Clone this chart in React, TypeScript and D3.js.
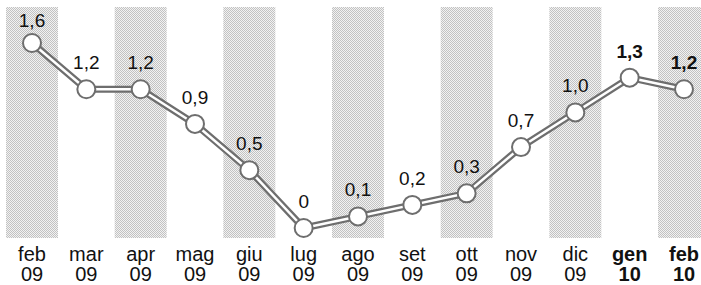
import React, { useEffect, useRef } from 'react';
import * as d3 from 'd3';

// dati: variazione mensile
const months = ['feb', 'mar', 'apr', 'mag', 'giu', 'lug', 'ago', 'set', 'ott', 'nov', 'dic', 'gen', 'feb'];
const years = ['09', '09', '09', '09', '09', '09', '09', '09', '09', '09', '09', '10', '10'];
const values = [1.6, 1.2, 1.2, 0.9, 0.5, 0, 0.1, 0.2, 0.3, 0.7, 1.0, 1.3, 1.2];
const valueLabels = ['1,6', '1,2', '1,2', '0,9', '0,5', '0', '0,1', '0,2', '0,3', '0,7', '1,0', '1,3', '1,2'];
const boldFrom = 11;

const App = () => {
  const svgRef = useRef<SVGSVGElement>(null);

  useEffect(() => {
    const width = 701;
    const height = 285;
    const svg = d3.select(svgRef.current);
    svg.selectAll('*').remove();
    svg.attr('width', width).attr('height', height);

    const idx = months.map((_, i) => i);
    const x = d3.scalePoint<number>().domain(idx).range([32, 684]);
    const y = d3.scaleLinear().domain([0, 1.6]).range([228, 43]);
    const bandW = 52;

    // pattern retinato per le bande
    const defs = svg.append('defs');
    const pat = defs.append('pattern')
      .attr('id', 'dots')
      .attr('width', 2)
      .attr('height', 2)
      .attr('patternUnits', 'userSpaceOnUse');
    pat.append('rect').attr('width', 2).attr('height', 2).attr('fill', '#f2f2f2');
    pat.append('rect').attr('width', 1).attr('height', 1).attr('fill', '#c2c2c2');
    pat.append('rect').attr('x', 1).attr('y', 1).attr('width', 1).attr('height', 1).attr('fill', '#c2c2c2');

    svg.append('g')
      .selectAll('rect')
      .data(idx.filter(i => i % 2 === 0))
      .enter()
      .append('rect')
      .attr('x', i => (x(i) as number) - bandW / 2)
      .attr('y', 7)
      .attr('width', bandW)
      .attr('height', 231)
      .attr('fill', 'url(#dots)');

    const line = d3.line<number>()
      .x(i => x(i) as number)
      .y(i => y(values[i]));

    svg.append('path')
      .attr('d', line(idx))
      .attr('fill', 'none')
      .attr('stroke', '#6e6e6e')
      .attr('stroke-width', 7)
      .attr('stroke-linejoin', 'round');

    svg.append('path')
      .attr('d', line(idx))
      .attr('fill', 'none')
      .attr('stroke', '#fff')
      .attr('stroke-width', 2.5)
      .attr('stroke-linejoin', 'round');

    svg.append('g')
      .selectAll('circle')
      .data(idx)
      .enter()
      .append('circle')
      .attr('cx', i => x(i) as number)
      .attr('cy', i => y(values[i]))
      .attr('r', 9)
      .attr('fill', '#fff')
      .attr('stroke', '#6e6e6e')
      .attr('stroke-width', 2);

    const font = '"Liberation Sans", Arial, Helvetica, sans-serif';

    // etichette valori
    svg.append('g')
      .selectAll('text')
      .data(idx)
      .enter()
      .append('text')
      .attr('x', i => x(i) as number)
      .attr('y', i => y(values[i]) - (i === 0 ? 16 : 20))
      .attr('text-anchor', 'middle')
      .style('font-family', font)
      .style('font-size', '19px')
      .style('font-weight', i => (i >= boldFrom ? 'bold' : 'normal'))
      .style('fill', '#111')
      .text(i => valueLabels[i]);

    // asse mesi
    const axis = svg.append('g')
      .selectAll('text')
      .data(idx)
      .enter()
      .append('text')
      .attr('x', i => x(i) as number)
      .attr('text-anchor', 'middle')
      .style('font-family', font)
      .style('font-size', '20px')
      .style('font-weight', i => (i >= boldFrom ? 'bold' : 'normal'))
      .style('fill', '#111');

    axis.append('tspan')
      .attr('x', i => x(i) as number)
      .attr('y', 261)
      .text(i => months[i]);

    axis.append('tspan')
      .attr('x', i => x(i) as number)
      .attr('y', 281)
      .text(i => years[i]);
  }, []);

  return (
    <svg ref={svgRef} style={{ position: 'absolute', left: 0, top: 0 }}></svg>
  );
};

export default App;
